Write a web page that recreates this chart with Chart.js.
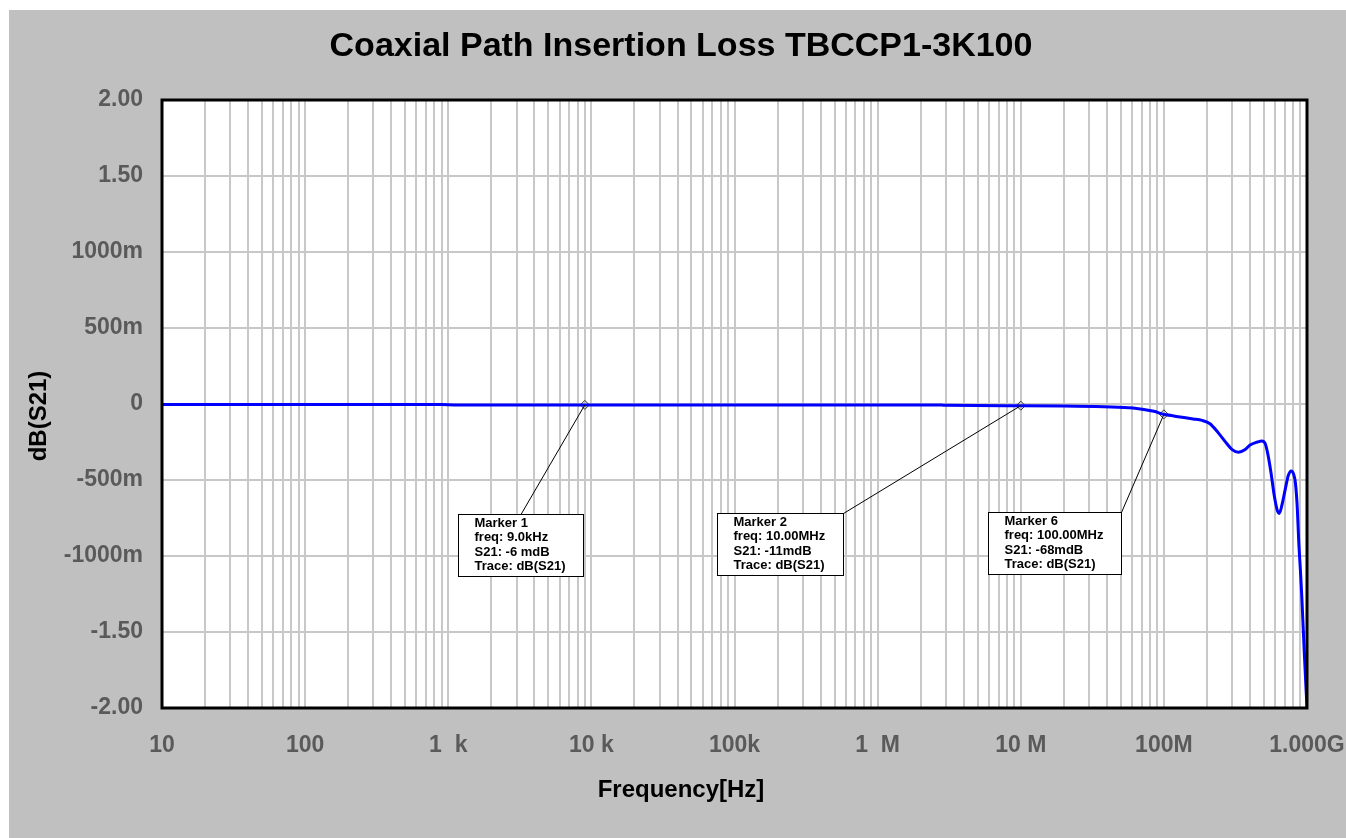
<!DOCTYPE html>
<html>
<head>
<meta charset="utf-8">
<script src="https://cdn.jsdelivr.net/npm/chart.js@4.4.1/dist/chart.umd.min.js"></script>
<style>
  body { margin: 0; background: #fff; }
  canvas { display: block; }
</style>
</head>
<body>
<canvas id="myChart" width="1346" height="838"></canvas>
<script>
// curve (freq in Hz, loss in dB)
const freqs = [10, 100, 900, 1100, 9000, 1e5, 1e6, 2.8e6, 3e6, 1e7, 2e7, 3.8e7, 6.1e7, 8.5e7, 1e8,
  1.3e8, 1.6e8, 1.85e8, 2.1e8, 2.4e8, 2.75e8, 3.0e8, 3.32e8, 3.7e8, 4.0e8, 4.5e8, 4.84e8, 5.1e8, 5.3e8,
  5.6e8, 5.9e8, 6.2e8, 6.4e8, 6.7e8, 7.05e8, 7.4e8, 7.76e8, 8.05e8, 8.3e8, 8.55e8, 8.75e8,
  9.0e8, 9.2e8, 9.6e8, 1e9];
const dbS21 = [-0.004, -0.004, -0.004, -0.006, -0.006, -0.006, -0.007, -0.007, -0.009, -0.011, -0.013, -0.018, -0.026, -0.048, -0.068,
  -0.085, -0.098, -0.108, -0.13, -0.19, -0.26, -0.30, -0.318, -0.30, -0.27, -0.25, -0.243, -0.26, -0.32,
  -0.45, -0.6, -0.70, -0.72, -0.66, -0.56, -0.47, -0.44, -0.46, -0.52, -0.68, -0.9,
  -1.1, -1.27, -1.66, -2.0];

// markers
const markerNames = ['Marker 1', 'Marker 2', 'Marker 6'];
const markerFreqs = [9000, 1e7, 1e8];
const markerVals = [-0.006, -0.011, -0.068];
const markerFreqText = ['9.0kHz', '10.00MHz', '100.00MHz'];
const markerS21Text = ['-6 mdB', '-11mdB', '-68mdB'];
// text box top-left corner, in data units
const boxFreqs = [1170, 75500, 5.9e6];
const boxVals = [-0.724, -0.717, -0.711];
const leaderAt = [0.5, 1, 1];

const decadeTicks = [10, 100, 1e3, 1e4, 1e5, 1e6, 1e7, 1e8, 1e9];
const decadeLabels = ['10', '100', '1  k', '10 k', '100k', '1  M', '10 M', '100M', '1.000G'];

const yTickLabels = {'2': '2.00', '1.5': '1.50', '1': '1000m', '0.5': '500m', '0': '0',
  '-0.5': '-500m', '-1': '-1000m', '-1.5': '-1.50', '-2': '-2.00'};

const tickColor = '#5a5a5a';
const gridColor = '#c8c8c8';
const fontFam = '"Liberation Sans", Arial, sans-serif';

const bgPlugin = {
  id: 'bg',
  beforeDraw(chart) {
    const ctx = chart.ctx;
    const a = chart.chartArea;
    ctx.save();
    ctx.fillStyle = '#ffffff';
    ctx.fillRect(0, 0, chart.width, chart.height);
    ctx.fillStyle = '#c0c0c0';
    ctx.fillRect(9, 10, chart.width - 9, chart.height - 10);
    ctx.fillStyle = '#ffffff';
    ctx.fillRect(a.left, a.top, a.right - a.left, a.bottom - a.top);
    ctx.restore();
  },
  afterDraw(chart) {
    const ctx = chart.ctx;
    const a = chart.chartArea;
    const xs = chart.scales.x, ys = chart.scales.y;
    ctx.save();
    // frame
    ctx.strokeStyle = '#000';
    ctx.lineWidth = 3;
    ctx.strokeRect(a.left, a.top, a.right - a.left, a.bottom - a.top);

    // titles
    ctx.fillStyle = '#000';
    ctx.textAlign = 'center';
    ctx.textBaseline = 'middle';
    ctx.font = 'bold 34px ' + fontFam;
    ctx.fillText('Coaxial Path Insertion Loss TBCCP1-3K100', 681, 47);
    ctx.font = 'bold 24px ' + fontFam;
    ctx.fillText('Frequency[Hz]', 681, 790);
    ctx.save();
    ctx.translate(39, 416);
    ctx.rotate(-Math.PI / 2);
    ctx.fillText('dB(S21)', 0, 0);
    ctx.restore();

    // marker boxes and leaders
    ctx.font = 'bold 13px ' + fontFam;
    ctx.textAlign = 'left';
    for (let i = 0; i < markerNames.length; i++) {
      const lines = [markerNames[i], 'freq: ' + markerFreqText[i], 'S21: ' + markerS21Text[i], 'Trace: dB(S21)'];
      let w = 0;
      lines.forEach(l => { w = Math.max(w, ctx.measureText(l).width); });
      w = Math.round(w + 34);
      const h = 62;
      const bx = Math.round(xs.getPixelForValue(boxFreqs[i])) + 0.5;
      const by = Math.round(ys.getPixelForValue(boxVals[i])) + 0.5;
      const mx = xs.getPixelForValue(markerFreqs[i]);
      const my = ys.getPixelForValue(markerVals[i]);
      ctx.strokeStyle = '#000';
      ctx.lineWidth = 1;
      ctx.beginPath();
      ctx.moveTo(bx + w * leaderAt[i], by);
      ctx.lineTo(mx, my);
      ctx.stroke();
      ctx.fillStyle = '#fff';
      ctx.fillRect(bx, by, w, h);
      ctx.strokeRect(bx, by, w, h);
      ctx.fillStyle = '#000';
      lines.forEach((l, k) => ctx.fillText(l, bx + 16, by + 9 + k * 14.4));
    }
    ctx.restore();
  }
};

const curve = freqs.map((f, i) => ({x: f, y: dbS21[i]}));
const markerPts = markerFreqs.map((f, i) => ({x: f, y: markerVals[i]}));

new Chart(document.getElementById('myChart'), {
  type: 'line',
  data: {
    datasets: [{
      data: curve,
      borderColor: '#0000ff',
      borderWidth: 3,
      pointRadius: 0,
      cubicInterpolationMode: 'monotone'
    }, {
      data: markerPts,
      showLine: false,
      pointStyle: 'rectRot',
      pointRadius: 4.5,
      borderColor: '#333',
      borderWidth: 1,
      backgroundColor: 'rgba(0,0,0,0)'
    }]
  },
  options: {
    responsive: false,
    animation: false,
    layout: {padding: {left: 62, top: 100, right: 39, bottom: 70}},
    plugins: {legend: {display: false}, title: {display: false}, tooltip: {enabled: false}},
    scales: {
      x: {
        type: 'logarithmic',
        min: 10,
        max: 1e9,
        afterBuildTicks(scale) {
          const t = [];
          decadeTicks.forEach((d, k) => {
            if (k === decadeTicks.length - 1) { t.push({value: d}); return; }
            for (let m = 1; m < 10; m++) t.push({value: d * m});
          });
          scale.ticks = t;
        },
        afterFit(scale) {
          scale.height = 60;
          scale.paddingLeft = 0;
          scale.paddingRight = 0;
        },
        grid: {color: gridColor, lineWidth: 2, drawTicks: false},
        border: {display: false},
        ticks: {
          autoSkip: false,
          maxRotation: 0,
          padding: 24,
          color: tickColor,
          font: {family: fontFam, size: 23, weight: 'bold'},
          callback(value) {
            const k = decadeTicks.indexOf(value);
            return k >= 0 ? decadeLabels[k] : '';
          }
        }
      },
      y: {
        min: -2,
        max: 2,
        afterFit(scale) {
          scale.width = 100;
          scale.paddingTop = 0;
          scale.paddingBottom = 0;
        },
        grid: {color: gridColor, lineWidth: 2, drawTicks: false},
        border: {display: false},
        ticks: {
          stepSize: 0.5,
          padding: 19,
          color: tickColor,
          font: {family: fontFam, size: 23, weight: 'bold'},
          callback(value) { return yTickLabels[String(value)]; }
        }
      }
    }
  },
  plugins: [bgPlugin]
});
</script>
</body>
</html>
